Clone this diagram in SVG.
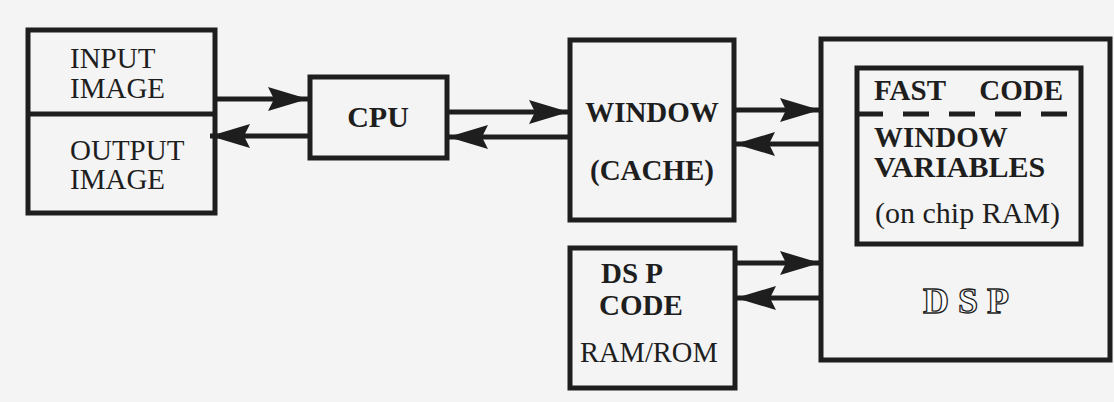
<svg xmlns="http://www.w3.org/2000/svg" width="1114" height="402" viewBox="0 0 1114 402">
  <style>
    .box { fill: none; stroke: #1e1e1e; stroke-width: 5; }
    .conn { stroke: #1e1e1e; stroke-width: 5; fill: none; }
    .t { font-family: "Liberation Serif", "Times New Roman", serif; fill: #1e1e1e; }
    .r { font-weight: normal; }
    .b { font-weight: bold; }
  </style>
  <defs>
    <marker id="ah" markerUnits="userSpaceOnUse" markerWidth="42" markerHeight="26" refX="40" refY="12" orient="auto">
      <path d="M0,0 L40,12 L0,24 L6,12 Z" fill="#1e1e1e"/>
    </marker>
  </defs>
  <rect x="0" y="0" width="1114" height="402" fill="#f4f4f4"/>

  <g id="image-box">
    <rect class="box" x="28" y="30" width="187" height="183"/>
    <line class="box" x1="28" y1="114" x2="215" y2="114"/>
    <text class="t r" x="70" y="68" font-size="29">INPUT</text>
    <text class="t r" x="70" y="98" font-size="29">IMAGE</text>
    <text class="t r" x="70" y="160" font-size="29">OUTPUT</text>
    <text class="t r" x="70" y="189" font-size="29">IMAGE</text>
  </g>

  <g id="cpu">
    <rect class="box" x="310" y="77" width="137" height="81"/>
    <text class="t b" x="378" y="127" font-size="30" text-anchor="middle">CPU</text>
  </g>

  <g id="window-cache">
    <rect class="box" x="570" y="40" width="164" height="180"/>
    <text class="t b" x="652" y="122" font-size="29" text-anchor="middle">WINDOW</text>
    <text class="t b" x="652" y="180" font-size="29" text-anchor="middle">(CACHE)</text>
  </g>

  <g id="dsp">
    <rect class="box" x="821" y="39" width="289" height="321"/>
    <text x="966" y="313" font-size="36" text-anchor="middle" font-family="Liberation Serif, serif" font-weight="bold" fill="#ffffff" stroke="#1e1e1e" stroke-width="1.3">D S P</text>
  </g>

  <g id="fast-code">
    <rect class="box" x="857" y="68" width="224" height="176"/>
    <text class="t b" x="874" y="100" font-size="29">FAST</text>
    <text class="t b" x="1063" y="100" font-size="29" text-anchor="end">CODE</text>
    <line x1="857" y1="114" x2="1081" y2="114" stroke="#1e1e1e" stroke-width="5" stroke-dasharray="26,20"/>
    <text class="t b" x="874" y="147" font-size="29">WINDOW</text>
    <text class="t b" x="874" y="177" font-size="30">VARIABLES</text>
    <text class="t r" x="875" y="223" font-size="30">(on chip RAM)</text>
  </g>

  <g id="dsp-code">
    <rect class="box" x="570" y="248" width="165" height="140"/>
    <text class="t b" x="601" y="283" font-size="29">DS P</text>
    <text class="t b" x="599" y="315" font-size="29">CODE</text>
    <text class="t r" x="580" y="362" font-size="28.5">RAM/ROM</text>
  </g>

  <g id="connectors">
    <line class="conn" x1="215" y1="99" x2="308" y2="99" marker-end="url(#ah)"/>
    <line class="conn" x1="310" y1="136" x2="210" y2="136" marker-end="url(#ah)"/>
    <line class="conn" x1="447" y1="112" x2="569" y2="112" marker-end="url(#ah)"/>
    <line class="conn" x1="570" y1="137" x2="448" y2="137" marker-end="url(#ah)"/>
    <line class="conn" x1="734" y1="110" x2="820" y2="110" marker-end="url(#ah)"/>
    <line class="conn" x1="821" y1="144" x2="735" y2="144" marker-end="url(#ah)"/>
    <line class="conn" x1="735" y1="263" x2="820" y2="263" marker-end="url(#ah)"/>
    <line class="conn" x1="821" y1="298" x2="736" y2="298" marker-end="url(#ah)"/>
  </g>
</svg>
